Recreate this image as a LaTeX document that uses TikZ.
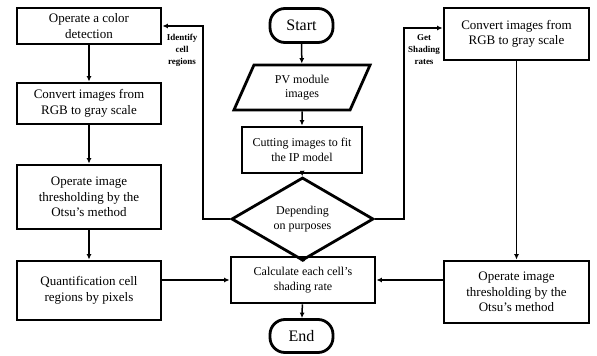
\documentclass[tikz,border=0pt]{standalone}
\usepackage{fontspec}
\setmainfont{Liberation Serif}
\usetikzlibrary{shapes.geometric}
\usetikzlibrary{arrows.meta}
\usetikzlibrary{positioning}

\begin{document}
\begin{tikzpicture}[x=1pt, y=-1pt,
        box/.style={rectangle, draw=black, line width=2.8pt, inner sep=0pt, align=center,
            font=\fontsize{13}{15.5}\selectfont},
        midbox/.style={box, font=\fontsize{12}{14.5}\selectfont},
        term/.style={midbox, rounded corners=15pt, minimum width=63pt, minimum height=34pt,
            font=\fontsize{16}{18}\selectfont},
        flow/.style={-{Latex[length=5.5pt, width=5pt]}, line width=1.5pt},
        tag/.style={align=center, font=\bfseries\fontsize{9}{12}\selectfont}]
    \useasboundingbox (0, 0) rectangle (597, 356);

    % left column
    \node[box, minimum width=144pt, minimum height=36pt] (color) at (89, 26) {Operate a color\\detection};
    \node[box, minimum width=144pt, minimum height=41pt] (grayL) at (89, 103.5) {Convert images from\\RGB to gray scale};
    \node[box, minimum width=144pt, minimum height=64pt] (otsuL) at (89, 197) {Operate image\\thresholding by the\\Otsu's method};
    \node[box, minimum width=144pt, minimum height=59pt] (quant) at (89, 290.5) {Quantification cell\\regions by pixels};

    % middle column
    \node[term] (start) at (301.5, 25.5) {Start};
    \node[midbox, trapezium, trapezium left angle=66, trapezium right angle=114,
        minimum width=118pt, minimum height=45pt] (pv) at (302, 87.5) {PV module\\images};
    \node[midbox, minimum width=120pt, minimum height=46pt] (cut) at (302, 150) {Cutting images to fit\\the IP model};
    \node[midbox, diamond, minimum width=142pt, minimum height=58pt] (purpose) at (302.5, 219) {Depending\\on purposes};
    \node[midbox, minimum width=144pt, minimum height=46pt] (calc) at (303, 280) {Calculate each cell's\\shading rate};
    \node[term, minimum height=33pt] (end) at (301.5, 336) {End};

    % right column
    \node[box, minimum width=145pt, minimum height=52pt] (grayR) at (516.5, 34) {Convert images from\\RGB to gray scale};
    \node[box, minimum width=145pt, minimum height=62pt] (otsuR) at (516.5, 292) {Operate image\\thresholding by the\\Otsu's method};

    \draw[flow] (start) -- (pv);
    \draw[flow] (pv) -- (cut);
    \draw[flow] (cut) -- (purpose);
    \draw[flow] (purpose) -- (calc);
    \draw[flow] (calc) -- (end);

    \draw[flow] (color) -- (grayL);
    \draw[flow] (grayL) -- (otsuL);
    \draw[flow] (otsuL) -- (quant);
    \draw[flow] (quant.east |- calc) -- (calc.west);

    \draw[flow] (grayR) -- (otsuR);
    \draw[flow] (otsuR.west |- calc) -- (calc.east);

    \draw[flow] (purpose.west) -- ++(-27, 0) |- (color.east);
    \draw[flow] (purpose.east) -- ++(29, 0) |- ([yshift=6pt]grayR.west);

    \node[tag] (idtag) at (182, 50) {Identify\\cell\\regions};
    \node[tag] (gettag) at (424, 50) {Get\\Shading\\rates};
\end{tikzpicture}
\end{document}
